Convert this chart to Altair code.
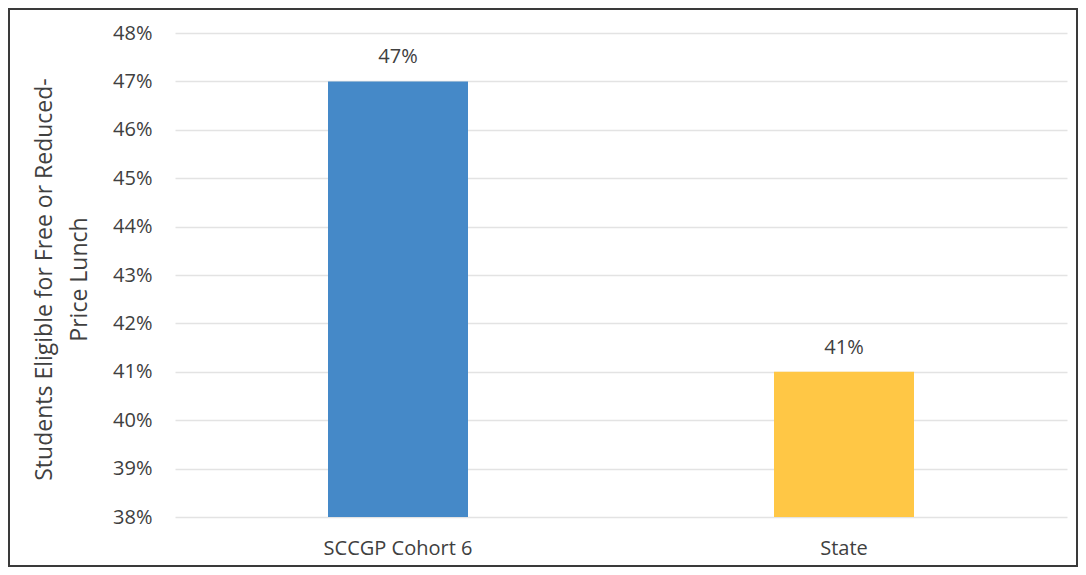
import altair as alt
import pandas as pd

categories = ["SCCGP Cohort 6", "State"]
values = [0.47, 0.41]
bar_colors = ["#4589C8", "#FFC745"]
y_tick_values = [0.38, 0.39, 0.40, 0.41, 0.42, 0.43, 0.44, 0.45, 0.46, 0.47, 0.48]
y_title = ["Students Eligible for Free or Reduced-", "Price Lunch"]

df = pd.DataFrame({"category": categories, "value": values})

FONT = "Open Sans"
TXT = "#404040"
W, H = 892, 484

x = alt.X("category:N", sort=categories, title=None,
          scale=alt.Scale(paddingInner=0.5, paddingOuter=0.25),
          axis=alt.Axis(labelAngle=0, domain=False, ticks=False, labelPadding=21,
                        labelFontSize=20, labelColor=TXT, labelFont=FONT))
y = alt.Y("value:Q", scale=alt.Scale(domain=[0.38, 0.48], zero=False, nice=False),
          axis=alt.Axis(values=y_tick_values, format=".0%", domain=False, ticks=False,
                        labelPadding=23, labelFontSize=20, labelColor=TXT, labelFont=FONT,
                        gridColor="#E3E3E3", gridWidth=1.5,
                        title=y_title, titleFont=FONT, titleFontSize=23, titleFontWeight="normal",
                        titleColor=TXT, titleAngle=270, titleX=-124, titleY=H / 2 + 4,
                        titleAlign="center", titleBaseline="alphabetic", titleLineHeight=35))

bars = alt.Chart(df).mark_bar(size=140).encode(
    x=x, y=y, y2=alt.datum(0.38),
    color=alt.Color("category:N", scale=alt.Scale(domain=categories, range=bar_colors), legend=None),
)

labels = alt.Chart(df).mark_text(baseline="alphabetic", dy=-18, fontSize=20, font=FONT, color=TXT).encode(
    x=alt.X("category:N", sort=categories),
    y="value:Q",
    text=alt.Text("value:Q", format=".0%"),
)

border = alt.Chart(alt.Data(values=[{}])).mark_rect(
    fillOpacity=0, stroke="#3A3A3A", strokeWidth=2
).encode(
    x=alt.value(-166), x2=alt.value(W + 10),
    y=alt.value(-24), y2=alt.value(H + 49),
)

chart = alt.layer(bars, labels, border).properties(
    width=W, height=H,
    autosize=alt.AutoSizeParams(type="none"),
    padding={"left": 167, "top": 25, "right": 11, "bottom": 50},
    background="white",
).configure_view(stroke=None)

chart.save("out.html", embed_options={"renderer": "svg", "actions": False})
